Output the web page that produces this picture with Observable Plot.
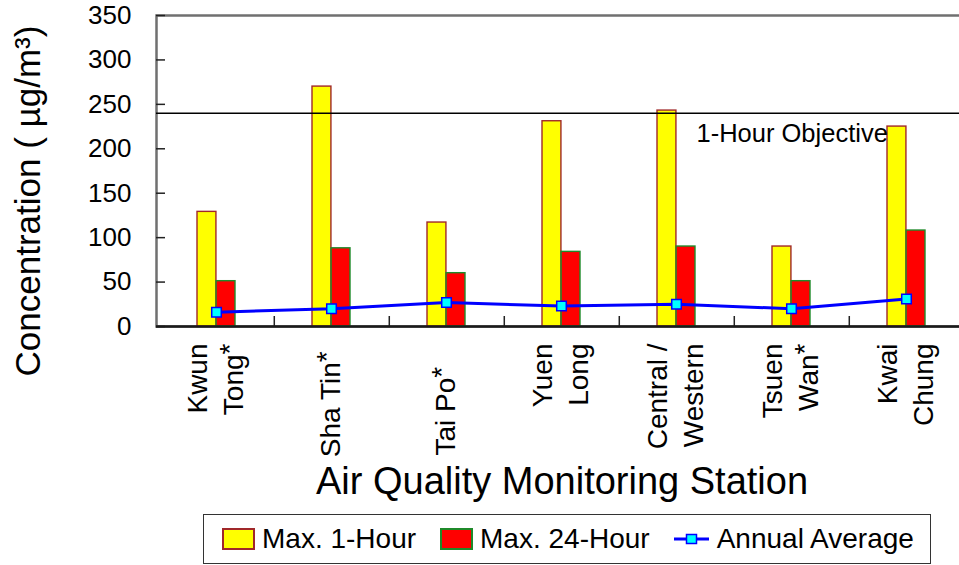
<!DOCTYPE html>
<html>
<head>
<meta charset="utf-8">
<script src="https://cdn.jsdelivr.net/npm/d3@7"></script>
<script src="https://cdn.jsdelivr.net/npm/@observablehq/plot@0.6"></script>
<style>
  html, body { margin: 0; padding: 0; background: #fff; overflow: hidden; }
  body { font-family: Arial, "Liberation Sans", sans-serif; width: 959px; height: 565px; }
  #chart svg { display: block; max-width: none; }
  #legend {
    position: absolute; left: 203px; top: 514px; width: 728px; height: 50px;
    box-sizing: border-box; border: 1.5px solid #333; background: #fff;
    display: flex; align-items: center; padding-left: 18px;
    font-size: 28px; color: #000;
  }
  #legend .sw { width: 33px; height: 22px; box-sizing: border-box; border: 2px solid; flex: none; margin-right: 7px; }
  #legend .lab { white-space: nowrap; margin-right: 24px; }
  #legend svg { flex: none; margin-right: 8px; }
</style>
</head>
<body>
<div id="chart"></div>
<div id="legend">
  <span class="sw" style="background:#ffff00;border-color:#a0282a"></span><span class="lab">Max. 1-Hour</span>
  <span class="sw" style="background:#ff0000;border-color:#1f8a2a"></span><span class="lab">Max. 24-Hour</span>
  <svg width="35" height="22" viewBox="0 0 35 22"><line x1="0" y1="11" x2="35" y2="11" stroke="#0000ff" stroke-width="3"/><rect x="12.5" y="6.5" width="10" height="9" fill="#00ffff" stroke="#0000ff" stroke-width="1.5"/></svg><span class="lab">Annual Average</span>
</div>
<script>
// Air quality monitoring stations and their concentrations (µg/m³)
const stations = ["Kwun\nTong*", "Sha Tin*", "Tai Po*", "Yuen\nLong", "Central /\nWestern", "Tsuen\nWan*", "Kwai\nChung"];
const max1Hour = [129, 270, 117, 231, 243, 90, 225];
const max24Hour = [51, 88, 60, 84, 90, 51, 108];
const annualAverage = [16, 20, 27, 23, 25, 20, 31];
const objective1Hour = 240;
const yTicks = [0, 50, 100, 150, 200, 250, 300, 350];
const objectiveLabel = "1-Hour Objective";
const yTitle = "Concentration ( µg/m³)";
const xTitle = "Air Quality Monitoring Station";

(function draw() {
  const rows = stations.map((station, i) => ({
    station, max1: max1Hour[i], max24: max24Hour[i], avg: annualAverage[i]
  }));

  const W = 959, H = 510;
  const padLeft = 156, padTop = 15, baseY = 326;
  const xRange = [padLeft, 965];
  const padInner = 0.67, padOuter = 0.335;
  const band = d3.scaleBand(stations, xRange).paddingInner(padInner).paddingOuter(padOuter);
  const half = band.bandwidth() / 2;
  const step = band.step();

  // extra spacing pushes a few rotated labels further from the axis
  const labelPad = {"Sha Tin*": 1, "Tai Po*": 3};
  const font = "Arial, 'Liberation Sans', sans-serif";

  const chart = Plot.plot({
    width: W,
    height: H,
    marginLeft: padLeft,
    marginRight: 0,
    marginTop: padTop,
    marginBottom: H - baseY,
    style: {fontFamily: font, background: "#fff", color: "#000"},
    x: {type: "band", domain: stations, range: xRange, paddingInner: padInner, paddingOuter: padOuter, label: null},
    y: {domain: [0, 350], label: null},
    marks: [
      Plot.frame({stroke: "#707070", strokeWidth: 2.5, insetRight: -14}),
      Plot.barY(rows, {x: "station", y: "max1", fill: "#ffff00", stroke: "#a0282a", strokeWidth: 1.4, insetRight: half}),
      Plot.barY(rows, {x: "station", y: "max24", fill: "#ff0000", stroke: "#1f8a2a", strokeWidth: 1.4, insetLeft: half}),
      Plot.ruleY([objective1Hour], {stroke: "#000", strokeWidth: 1.4}),
      Plot.text([{station: stations[4], value: objective1Hour}], {
        x: "station", y: "value", text: () => objectiveLabel,
        textAnchor: "start", lineAnchor: "middle", dx: 20, dy: 21, fontSize: 25.5, fill: "#000"
      }),
      Plot.line(rows, {x: "station", y: "avg", stroke: "#0000ff", strokeWidth: 3}),
      Plot.dot(rows, {x: "station", y: "avg", symbol: "square", r: 5.4, fill: "#00ffff", stroke: "#0000ff", strokeWidth: 1.5}),
      // inward tick marks
      Plot.tickY(yTicks, {y: d => d, stroke: "#222", strokeWidth: 1.5, insetRight: W - padLeft - 9}),
      Plot.tickX(stations.slice(0, -1), {x: d => d, dx: step / 2, stroke: "#222", strokeWidth: 1.5, insetTop: baseY - padTop - 10}),
      Plot.ruleY([0], {stroke: "#1a1a1a", strokeWidth: 2.5}),
      Plot.axisY({ticks: yTicks, tickSize: 0, tickPadding: 25, fontSize: 26, label: null}),
      Plot.axisX({
        tickSize: 0, tickPadding: 17, tickRotate: -90, fontSize: 28, lineHeight: 1.3,
        textAnchor: "end", lineAnchor: "middle", label: null, dx: -3,
        tickFormat: d => d + "\u00a0".repeat(labelPad[d] || 0)
      }),
      Plot.text([yTitle], {
        text: d => d, frameAnchor: "left", rotate: -90, dx: -128, dy: 30,
        fontSize: 35, textAnchor: "middle", lineAnchor: "middle", fill: "#000"
      }),
      Plot.text([xTitle], {
        text: d => d, frameAnchor: "bottom", dx: 4, dy: 155,
        fontSize: 38, textAnchor: "middle", lineAnchor: "middle", fill: "#000"
      })
    ]
  });

  // raise the asterisk in station names as a superscript
  const NS = "http://www.w3.org/2000/svg";
  function superStar(el) {
    const s = el.textContent;
    const i = s.indexOf("*");
    if (i < 0) return;
    el.textContent = s.slice(0, i);
    const star = document.createElementNS(NS, "tspan");
    star.setAttribute("baseline-shift", "14%");
    star.textContent = "*";
    el.appendChild(star);
    if (i + 1 < s.length) el.appendChild(document.createTextNode(s.slice(i + 1)));
  }
  chart.querySelectorAll('g[aria-label="x-axis tick label"] text').forEach(t => {
    const spans = t.querySelectorAll("tspan");
    if (spans.length) spans.forEach(superStar); else superStar(t);
  });

  document.getElementById("chart").appendChild(chart);
})();
</script>
</body>
</html>
